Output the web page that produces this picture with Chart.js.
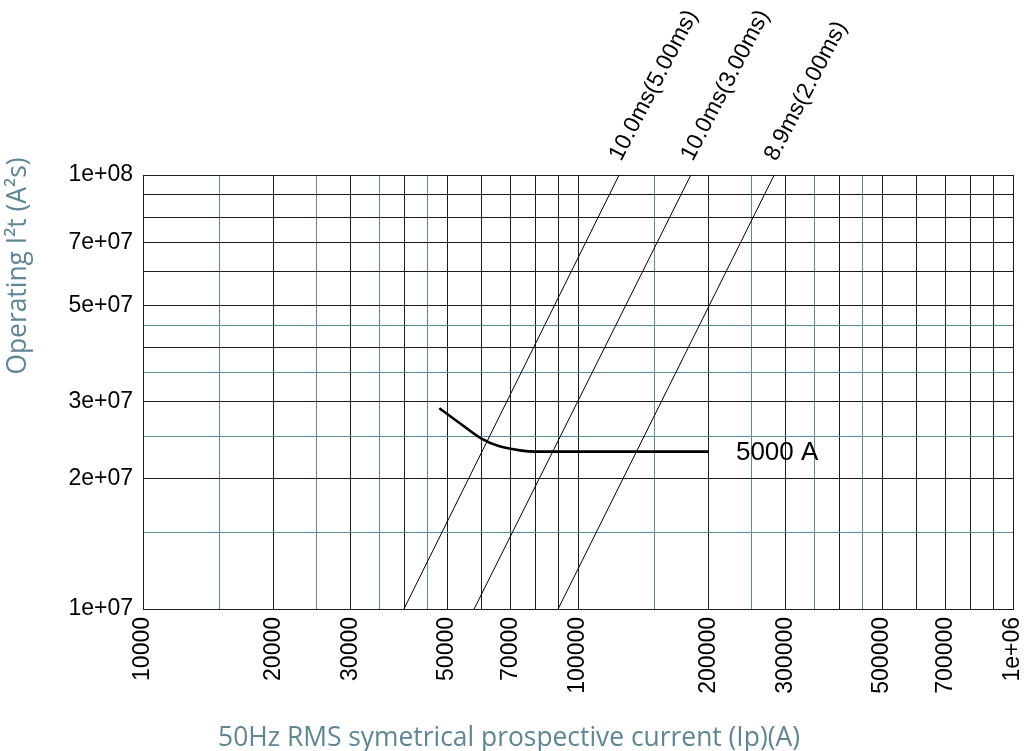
<!DOCTYPE html>
<html>
<head>
<meta charset="utf-8">
<script src="https://cdn.jsdelivr.net/npm/chart.js@4.4.1/dist/chart.umd.min.js"></script>
<style>
  html, body { margin: 0; padding: 0; background: #ffffff; }
  canvas { display: block; }
</style>
</head>
<body>
<canvas id="c" width="1025" height="751"></canvas>
<script>
// ---------------- data ----------------
const xTickValues = [10000, 15000, 20000, 25000, 30000, 35000, 40000, 45000, 50000, 60000, 70000, 80000, 90000,
                     100000, 150000, 200000, 250000, 300000, 350000, 400000, 450000, 500000, 600000, 700000, 800000, 900000, 1000000];
const xMinorValues = [15000, 25000, 35000, 45000, 150000, 250000, 350000, 450000];
const xLabelValues = [10000, 20000, 30000, 50000, 70000, 100000, 200000, 300000, 500000, 700000, 1000000];
const xLabelTexts  = ['10000', '20000', '30000', '50000', '70000', '100000', '200000', '300000', '500000', '700000', '1e+06'];

const yTickValues = [1e7, 1.5e7, 2e7, 2.5e7, 3e7, 3.5e7, 4e7, 4.5e7, 5e7, 6e7, 7e7, 8e7, 9e7, 1e8];
const yMinorValues = [1.5e7, 2.5e7, 3.5e7, 4.5e7];
const yLabelValues = [1e7, 2e7, 3e7, 5e7, 7e7, 1e8];
const yLabelTexts  = ['1e+07', '2e+07', '3e+07', '5e+07', '7e+07', '1e+08'];

// pre-arcing lines (I^2 t ~ I^2): [current, I2t]
const line5msX = [39800, 124300];
const line5msY = [1e7, 1e8];
const line3msX = [57700, 181700];
const line3msY = [1e7, 1e8];
const line2msX = [90000, 282500];
const line2msY = [1e7, 1e8];
const lineLabels = ['10.0ms(5.00ms)', '10.0ms(3.00ms)', '8.9ms(2.00ms)'];

// 5000 A curve
const curveX = [48000, 53500, 60000, 66000, 73500, 80000, 200000];
const curveY = [2.90e7, 2.68e7, 2.47e7, 2.37e7, 2.32e7, 2.305e7, 2.305e7];
const curveLabel = '5000 A';

const xTitle = '50Hz RMS symetrical prospective current (Ip)(A)';
const yTitle = 'Operating I\u00B2t (A\u00B2s)';

// ---------------- helpers ----------------
const toPts = (xs, ys) => xs.map((x, i) => ({ x: x, y: ys[i] }));
const near = (a, b) => Math.abs(a - b) / b < 1e-6;
const isIn = (v, arr) => arr.some(m => near(v, m));
const labelFor = (v, vals, txt) => { const i = vals.findIndex(m => near(v, m)); return i >= 0 ? txt[i] : ''; };

const BLACK = '#1c1c1c';
const TEAL = '#5d8b97';
const TITLE = '#5f8696';
const TICKFONT = { family: '"Liberation Sans", Arial, sans-serif', size: 23 };

const labelsPlugin = {
  id: 'labels',
  afterDatasetsDraw(chart) {
    const ctx = chart.ctx;
    const xs = chart.scales.x, ys = chart.scales.y;
    const area = chart.chartArea;
    ctx.save();
    ctx.fillStyle = '#000';
    ctx.font = '23px "Liberation Sans", Arial, sans-serif';
    ctx.textAlign = 'left';
    ctx.textBaseline = 'alphabetic';
    const tops = [line5msX[1], line3msX[1], line2msX[1]];
    tops.forEach((tx, i) => {
      const px = xs.getPixelForValue(tx) + 2;
      const py = area.top - 13;
      ctx.save();
      ctx.translate(px, py);
      ctx.rotate(-62.5 * Math.PI / 180);
      ctx.fillText(lineLabels[i], 0, 0);
      ctx.restore();
    });
    // curve label
    ctx.font = '26px "Liberation Sans", Arial, sans-serif';
    ctx.textBaseline = 'middle';
    const lx = xs.getPixelForValue(curveX[curveX.length - 1]) + 27;
    const ly = ys.getPixelForValue(curveY[curveY.length - 1]) + 1;
    ctx.fillText(curveLabel, lx, ly);

    // axis titles
    const fam = '"Open Sans", "Noto Sans", sans-serif';
    ctx.fillStyle = TITLE;
    let size = 22;
    ctx.font = size + 'px ' + fam;
    const w = ctx.measureText(xTitle).width;
    size = size * 582 / w;
    ctx.font = size.toFixed(2) + 'px ' + fam;
    ctx.textAlign = 'center';
    ctx.textBaseline = 'alphabetic';
    ctx.fillText(xTitle, 509, 746);
    ctx.save();
    ctx.translate(26, 266);
    ctx.rotate(-Math.PI / 2);
    ctx.fillText(yTitle, 0, 0);
    ctx.restore();
    ctx.restore();
  }
};

new Chart(document.getElementById('c'), {
  type: 'scatter',
  data: {
    datasets: [
      { data: toPts(line5msX, line5msY), showLine: true, borderColor: '#000', borderWidth: 1, pointRadius: 0 },
      { data: toPts(line3msX, line3msY), showLine: true, borderColor: '#000', borderWidth: 1, pointRadius: 0 },
      { data: toPts(line2msX, line2msY), showLine: true, borderColor: '#000', borderWidth: 1, pointRadius: 0 },
      { data: toPts(curveX, curveY), showLine: true, borderColor: '#000', borderWidth: 2.6, pointRadius: 0,
        cubicInterpolationMode: 'monotone' }
    ]
  },
  options: {
    responsive: false,
    animation: false,
    devicePixelRatio: 1,
    layout: { padding: { left: 0, right: 12, top: 175, bottom: 0 } },
    plugins: { legend: { display: false }, tooltip: { enabled: false } },
    scales: {
      x: {
        type: 'logarithmic', min: 10000, max: 1000000,
        afterBuildTicks: s => { s.ticks = xTickValues.map(v => ({ value: v })); },
        afterFit: s => { s.height = 142; s.paddingLeft = 0; s.paddingRight = 0; },
        ticks: {
          autoSkip: false, minRotation: 90, maxRotation: 90, padding: 8,
          font: TICKFONT, color: '#000',
          callback: v => labelFor(v, xLabelValues, xLabelTexts)
        },
        grid: {
          drawTicks: false, lineWidth: 1,
          color: c => (c.tick && isIn(c.tick.value, xMinorValues)) ? TEAL : BLACK
        },
        border: { color: BLACK, width: 1 }
      },
      y: {
        type: 'logarithmic', min: 1e7, max: 1e8,
        afterBuildTicks: s => { s.ticks = yTickValues.map(v => ({ value: v })); },
        afterFit: s => { s.width = 143; s.paddingTop = 0; s.paddingBottom = 0; },
        ticks: {
          autoSkip: false, padding: 10,
          font: TICKFONT, color: '#000',
          callback: v => labelFor(v, yLabelValues, yLabelTexts)
        },
        grid: {
          drawTicks: false, lineWidth: 1,
          color: c => (c.tick && isIn(c.tick.value, yMinorValues)) ? TEAL : BLACK
        },
        border: { color: BLACK, width: 1 }
      }
    }
  },
  plugins: [labelsPlugin]
});
</script>
</body>
</html>
